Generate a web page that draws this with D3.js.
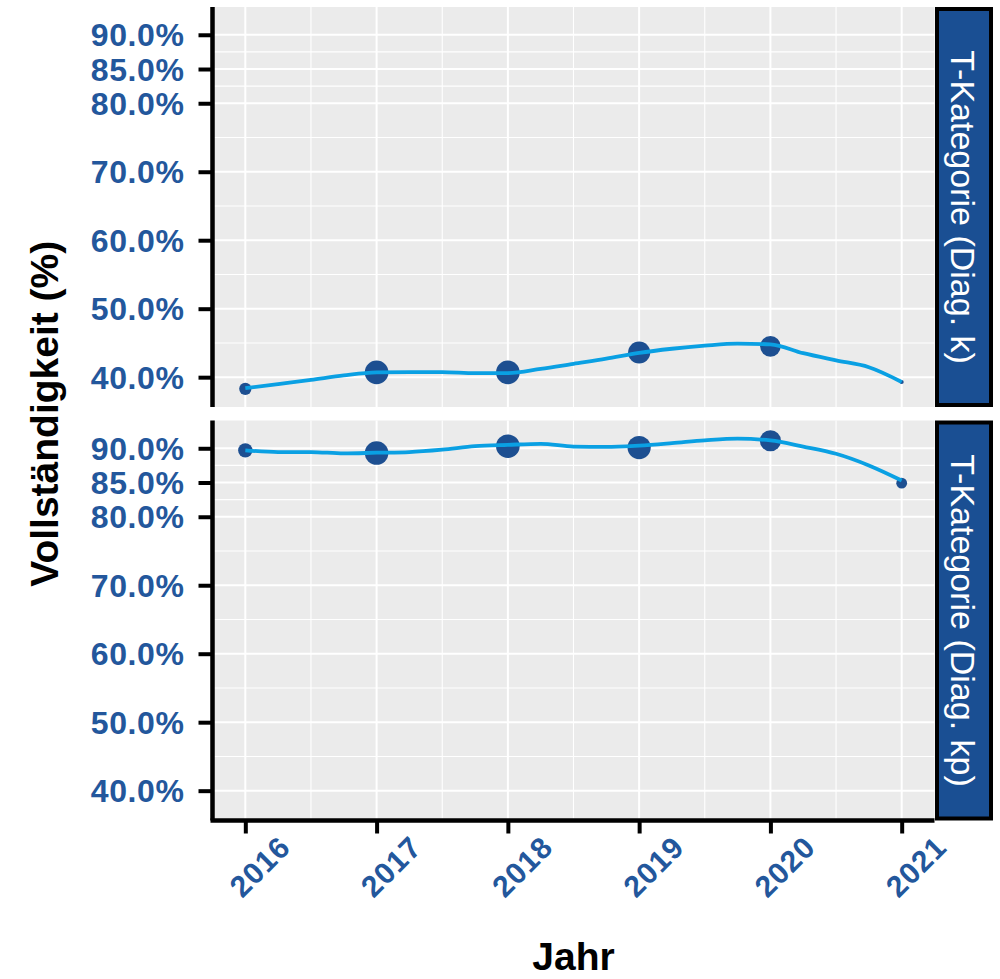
<!DOCTYPE html>
<html>
<head>
<meta charset="utf-8">
<script src="https://cdn.jsdelivr.net/npm/d3@7/dist/d3.min.js"></script>
<style>
  html, body { margin: 0; padding: 0; background: #ffffff; }
  svg { display: block; }
  text { font-family: "Liberation Sans", Arial, sans-serif; }
</style>
</head>
<body>
<svg id="chart" width="1000" height="979"></svg>
<script>
// ---------------- data ----------------
const jahre = [2016, 2017, 2018, 2019, 2020, 2021];
const kategorien = ["T-Kategorie (Diag. k)", "T-Kategorie (Diag. kp)"];

// observed completeness (%) per year
const werteK  = [38.3, 40.7, 40.7, 43.6, 44.5, 39.3];
const werteKp = [89.7, 89.3, 90.3, 90.1, 91.1, 84.9];

// relative case weight per year (mapped to point size)
const gewichtK  = [0.27, 1.00, 1.00, 0.88, 0.76, 0.03];
const gewichtKp = [0.37, 1.00, 1.00, 0.97, 0.80, 0.21];

// smoothed trend
const glattJahre = [2016, 2016.25, 2016.5, 2016.75, 2017, 2017.25, 2017.5, 2017.75,
                    2018, 2018.25, 2018.5, 2018.75, 2019, 2019.25, 2019.5, 2019.75,
                    2020, 2020.25, 2020.5, 2020.75, 2021];
const glattK  = [38.4, 39.0, 39.6, 40.25, 40.7, 40.75, 40.75, 40.6,
                 40.6, 41.2, 41.95, 42.7, 43.55, 44.15, 44.6, 44.9,
                 44.8, 43.5, 42.45, 41.45, 39.3];
const glattKp = [89.7, 89.45, 89.45, 89.25, 89.35, 89.45, 89.8, 90.3,
                 90.5, 90.65, 90.25, 90.2, 90.4, 90.75, 91.15, 91.4,
                 91.15, 90.25, 89.2, 87.5, 85.3];

const yTicks = [40, 50, 60, 70, 80, 85, 90];
const xTicks = jahre;

const achsenTitelX = "Jahr";
const achsenTitelY = "Vollständigkeit (%)";

// ---------------- layout ----------------
const svg = d3.select("#chart");
const panelLeft = 212.5, panelRight = 934.5;
const panelH = 400;
const panelTops = [7, 420.5];

const blue = "#23579c";
const pointCol = "#1d4f91";
const lineCol = "#0aa0e3";
const stripCol = "#1a4f93";

const panels = [
  { name: kategorien[0], werte: werteK,  gewicht: gewichtK,  glatt: glattK },
  { name: kategorien[1], werte: werteKp, gewicht: gewichtKp, glatt: glattKp }
];

// shared y domain from all data, ggplot-like 5% expansion
const alle = [].concat(werteK, werteKp, glattK, glattKp);
const [ymin, ymax] = d3.extent(alle);
const yr = ymax - ymin;
const yDomain = [ymin - 0.05 * yr, ymax + 0.05 * yr];

const xr = d3.max(jahre) - d3.min(jahre);
const x = d3.scaleLinear()
  .domain([d3.min(jahre) - 0.05 * xr, d3.max(jahre) + 0.05 * xr])
  .range([panelLeft, panelRight]);

const rScale = d3.scaleSqrt().domain([0, 1]).range([0, 11.8]);

const fmt = v => d3.format(".1f")(v) + "%";

// minor breaks
function minorBetween(ticks) {
  const out = [];
  for (let i = 0; i < ticks.length - 1; i++) out.push((ticks[i] + ticks[i + 1]) / 2);
  return out;
}
const yMinor = minorBetween(yTicks).concat([yTicks[0] - (yTicks[1] - yTicks[0]) / 2]);
const xMinor = minorBetween(xTicks);

panels.forEach((p, i) => {
  const top = panelTops[i];
  const y = d3.scaleLinear().domain(yDomain).range([top + panelH, top]);
  const g = svg.append("g");

  // background
  g.append("rect")
    .attr("x", panelLeft).attr("y", top)
    .attr("width", panelRight - panelLeft).attr("height", panelH)
    .attr("fill", "#ebebeb");

  // minor grid
  g.selectAll(".ymin").data(yMinor.filter(v => v > yDomain[0] && v < yDomain[1])).enter()
    .append("line")
    .attr("x1", panelLeft).attr("x2", panelRight)
    .attr("y1", d => y(d)).attr("y2", d => y(d))
    .attr("stroke", "#ffffff").attr("stroke-width", 1.1);
  g.selectAll(".xmin").data(xMinor).enter()
    .append("line")
    .attr("y1", top).attr("y2", top + panelH)
    .attr("x1", d => x(d)).attr("x2", d => x(d))
    .attr("stroke", "#ffffff").attr("stroke-width", 1.1);
  // major grid
  g.selectAll(".ymaj").data(yTicks).enter()
    .append("line")
    .attr("x1", panelLeft).attr("x2", panelRight)
    .attr("y1", d => y(d)).attr("y2", d => y(d))
    .attr("stroke", "#ffffff").attr("stroke-width", 2);
  g.selectAll(".xmaj").data(xTicks).enter()
    .append("line")
    .attr("y1", top).attr("y2", top + panelH)
    .attr("x1", d => x(d)).attr("x2", d => x(d))
    .attr("stroke", "#ffffff").attr("stroke-width", 2);

  // points
  g.selectAll(".pt").data(jahre.map((j, k) => ({ j, v: p.werte[k], w: p.gewicht[k] }))).enter()
    .append("circle")
    .attr("cx", d => x(d.j)).attr("cy", d => y(d.v))
    .attr("r", d => rScale(d.w))
    .attr("fill", pointCol);

  // smooth line
  const line = d3.line()
    .x(d => x(d[0])).y(d => y(d[1]))
    .curve(d3.curveMonotoneX);
  g.append("path")
    .datum(glattJahre.map((j, k) => [j, p.glatt[k]]))
    .attr("d", line)
    .attr("fill", "none")
    .attr("stroke", lineCol)
    .attr("stroke-width", 3.8);

  // y axis
  const yAxis = d3.axisLeft(y).tickValues(yTicks).tickFormat(fmt).tickSize(14).tickPadding(14);
  const ay = svg.append("g").attr("transform", `translate(${panelLeft},0)`).call(yAxis);
  ay.select(".domain").remove();
  ay.selectAll(".tick line").attr("stroke", "#000").attr("stroke-width", 4);
  ay.selectAll(".tick text")
    .attr("fill", blue)
    .style("font-size", "32px")
    .style("font-weight", "bold")
    .style("letter-spacing", "0.6px")
    .attr("dy", "0.35em");
  svg.append("line")
    .attr("x1", panelLeft).attr("x2", panelLeft)
    .attr("y1", top).attr("y2", top + panelH)
    .attr("stroke", "#000").attr("stroke-width", 4.5);

  // strip
  svg.append("rect")
    .attr("x", 937).attr("y", top + 2)
    .attr("width", 54).attr("height", panelH - 4)
    .attr("fill", stripCol)
    .attr("stroke", "#000").attr("stroke-width", 4);
  svg.append("text")
    .attr("transform", `translate(963,${top + panelH / 2}) rotate(90)`)
    .attr("text-anchor", "middle")
    .attr("dominant-baseline", "central")
    .attr("fill", "#ffffff")
    .style("font-size", "34px")
    .text(p.name);

  // x axis on bottom panel only
  if (i === panels.length - 1) {
    const bottom = top + panelH;
    const xAxis = d3.axisBottom(x).tickValues(xTicks).tickFormat(d3.format("d")).tickSize(13);
    const ax = svg.append("g").attr("transform", `translate(0,${bottom})`).call(xAxis);
    ax.select(".domain").remove();
    ax.selectAll(".tick line").attr("stroke", "#000").attr("stroke-width", 4);
    ax.selectAll(".tick text")
      .attr("y", 0).attr("dy", null)
      .attr("transform", "translate(14,46) rotate(-45)")
      .attr("text-anchor", "middle")
      .attr("dominant-baseline", "central")
      .attr("fill", blue)
      .style("font-size", "30px")
      .style("font-weight", "bold")
      .style("letter-spacing", "1px");
    svg.append("line")
      .attr("x1", panelLeft - 2).attr("x2", panelRight)
      .attr("y1", bottom).attr("y2", bottom)
      .attr("stroke", "#000").attr("stroke-width", 4.5);
  }
});

// axis titles
svg.append("text")
  .attr("x", (panelLeft + panelRight) / 2)
  .attr("y", 970)
  .attr("text-anchor", "middle")
  .style("font-size", "39px")
  .style("font-weight", "bold")
  .attr("fill", "#000")
  .text(achsenTitelX);

svg.append("text")
  .attr("transform", `translate(58,${(panelTops[0] + panelTops[1] + panelH) / 2}) rotate(-90)`)
  .attr("text-anchor", "middle")
  .style("font-size", "39px")
  .style("font-weight", "bold")
  .attr("fill", "#000")
  .text(achsenTitelY);
</script>
</body>
</html>
